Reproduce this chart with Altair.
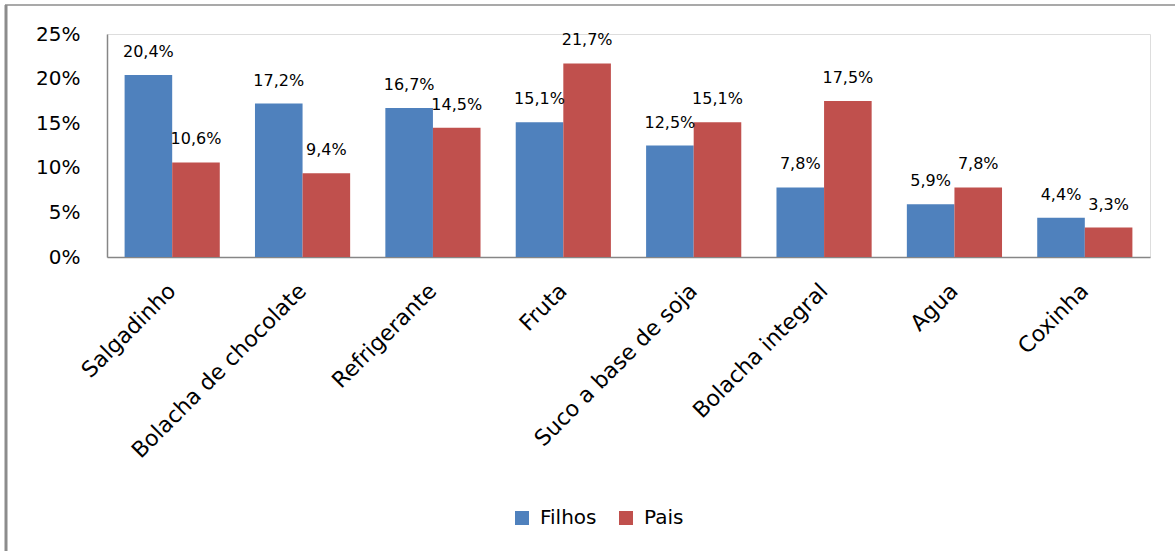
import altair as alt
import pandas as pd

categories = ["Salgadinho", "Bolacha de chocolate", "Refrigerante", "Fruta",
              "Suco a base de soja", "Bolacha integral", "Agua", "Coxinha"]
filhos = [20.4, 17.2, 16.7, 15.1, 12.5, 7.8, 5.9, 4.4]
pais = [10.6, 9.4, 14.5, 21.7, 15.1, 17.5, 7.8, 3.3]
series = ["Filhos", "Pais"]
colors = ["#4F81BD", "#C0504D"]
y_ticks = [0, 5, 10, 15, 20, 25]

rows = []
for c, f, p in zip(categories, filhos, pais):
    rows.append({"cat": c, "serie": "Filhos", "v": f})
    rows.append({"cat": c, "serie": "Pais", "v": p})
df = pd.DataFrame(rows)

FONT = "DejaVu Sans"

base = alt.Chart(df).encode(
    x=alt.X("cat:N", sort=categories, title=None,
            scale=alt.Scale(paddingInner=0.27, paddingOuter=0.135),
            axis=alt.Axis(labelAngle=-45, labelAlign="right", labelBaseline="middle",
                          labelFontSize=22, labelFont=FONT, labelColor="#000000",
                          labelPadding=30, ticks=False, domainColor="#868686",
                          domainWidth=1.5, grid=False, labelLimit=400)),
    xOffset=alt.XOffset("serie:N", sort=series, scale=alt.Scale(paddingInner=0, paddingOuter=0)),
    y=alt.Y("v:Q", title=None,
            scale=alt.Scale(domain=[0, 25], nice=False),
            axis=alt.Axis(values=y_ticks, labelExpr="datum.value + '%'",
                          labelFontSize=20, labelFont=FONT, labelColor="#000000",
                          labelPadding=27, ticks=False, domainColor="#868686",
                          domainWidth=1.5, grid=False)),
)

bars = base.mark_bar().encode(
    color=alt.Color("serie:N", sort=series,
                    scale=alt.Scale(domain=series, range=colors),
                    legend=alt.Legend(title=None, orient="none", legendX=405, legendY=474,
                                      direction="horizontal", symbolType="square",
                                      symbolSize=196, symbolStrokeWidth=0,
                                      labelFontSize=20, labelFont=FONT,
                                      labelColor="#000000", columnPadding=19,
                                      labelOffset=8)),
)

labels = base.mark_text(baseline="alphabetic", dy=-18, fontSize=16, font=FONT,
                        color="#000000").transform_calculate(
    lbl="replace(format(datum.v, '.1f'), '.', ',') + '%'"
).encode(text="lbl:N")

frame_df = pd.DataFrame({"k": [0]})
left_line = alt.Chart(frame_df).mark_rule(color="#8c8c8c", strokeWidth=3).encode(
    x=alt.value(-101), y=alt.value(-29), y2=alt.value(520))
top_line = alt.Chart(frame_df).mark_rule(color="#8c8c8c", strokeWidth=1.5).encode(
    x=alt.value(-102), x2=alt.value(1070), y=alt.value(-29))

chart = alt.layer(bars, labels, left_line, top_line).properties(
    width=1043, height=223,
    autosize=alt.AutoSizeParams(type="none"),
    padding={"left": 107, "top": 34, "right": 25, "bottom": 294},
).configure_view(stroke=None).configure(background="#ffffff")

chart.save("out.html", embed_options={"renderer": "svg", "actions": False})
